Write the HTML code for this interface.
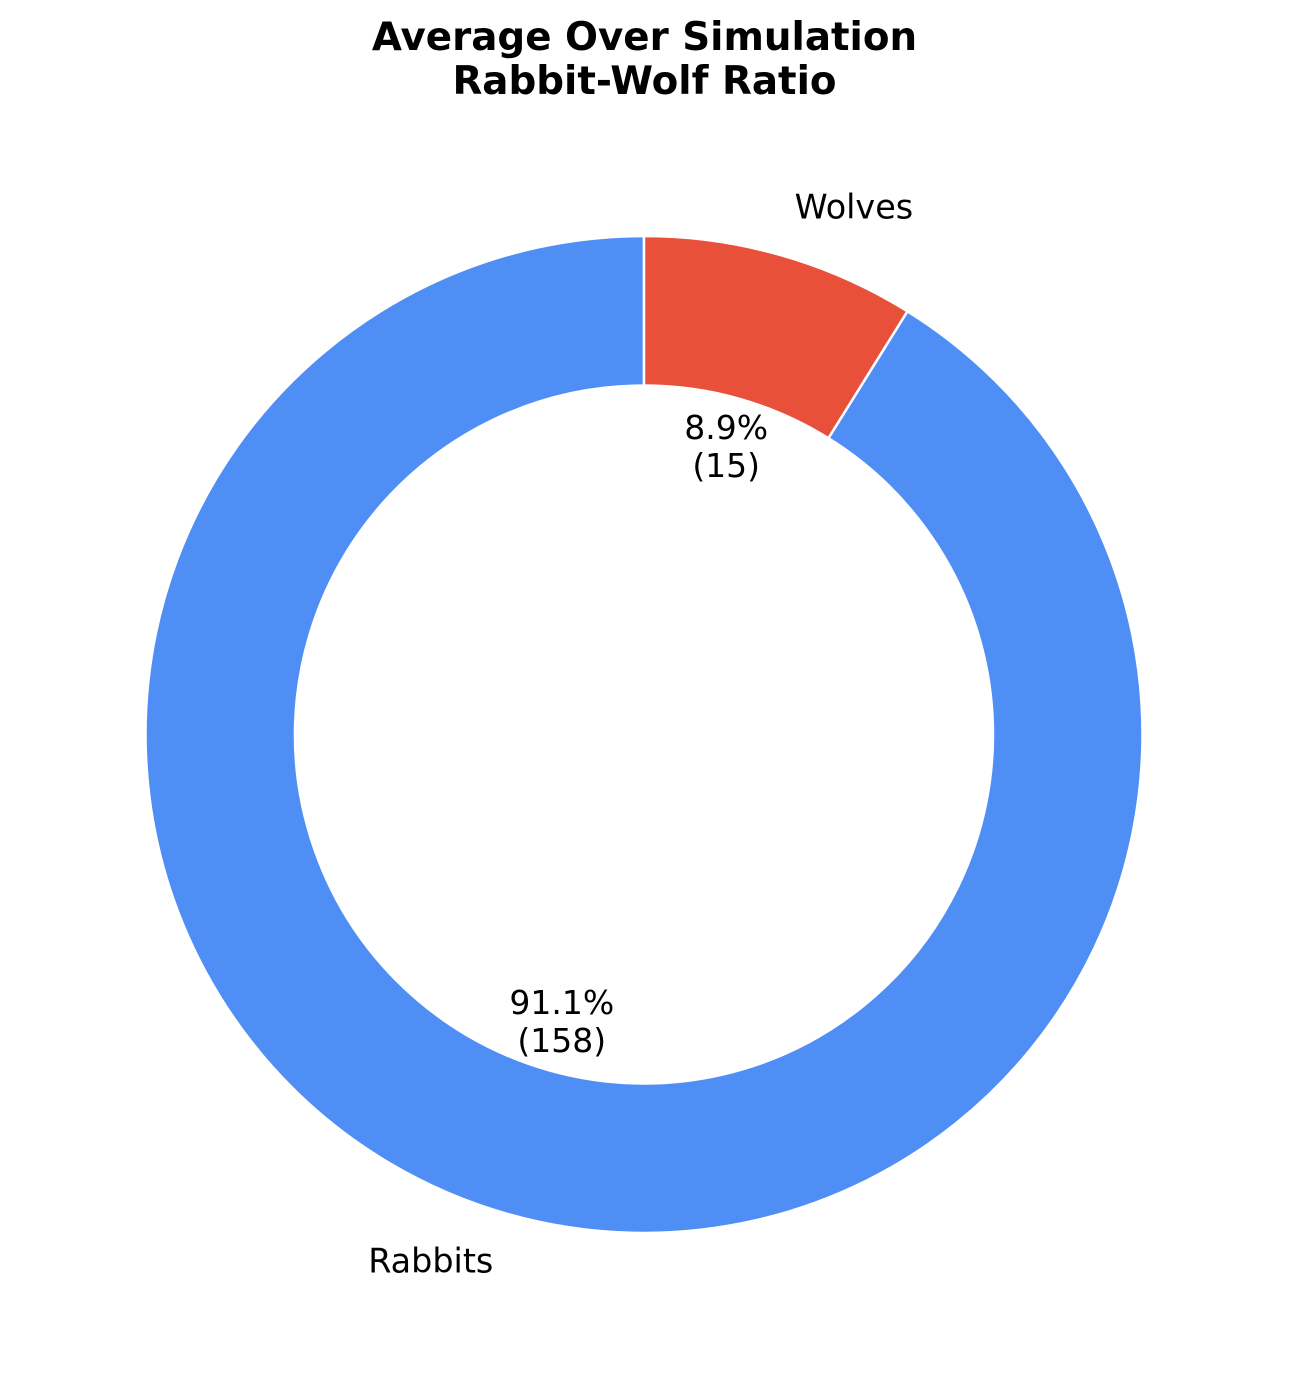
<!DOCTYPE html>
<html><head><meta charset="utf-8"><style>
html,body{margin:0;padding:0;background:#fff;}
svg{display:block;font-family:"DejaVu Sans","Liberation Sans",sans-serif;}
</style></head><body>
<svg id="chart" width="1289" height="1380">
<text x="644.5" y="50" text-anchor="middle" font-size="38.8" font-weight="bold">Average Over Simulation</text>
<text x="644.5" y="94" text-anchor="middle" font-size="38.8" font-weight="bold">Rabbit-Wolf Ratio</text>
<g id="slices"></g>
</svg>
<script>
const categories = ["Rabbits", "Wolves"];
const values = [158.4, 15.4];
const colors = ["#4f8ef5", "#e8503a"];
const cx = 644, cy = 734.5, R = 498.5, r = 349;
const total = values.reduce((a,b)=>a+b,0);
const g = document.getElementById('slices');
const NS = "http://www.w3.org/2000/svg";
function pt(rad, deg){ const a=deg*Math.PI/180; return [cx+rad*Math.cos(a), cy-rad*Math.sin(a)]; }
let start = 90;
values.forEach((v,i)=>{
  const sweep = v/total*360, end = start+sweep;
  const large = sweep>180?1:0;
  const [x1,y1]=pt(R,start),[x2,y2]=pt(R,end),[x3,y3]=pt(r,end),[x4,y4]=pt(r,start);
  const p=document.createElementNS(NS,'path');
  p.setAttribute('d',`M${x1},${y1} A${R},${R} 0 ${large} 0 ${x2},${y2} L${x3},${y3} A${r},${r} 0 ${large} 1 ${x4},${y4} Z`);
  p.setAttribute('fill',colors[i]); p.setAttribute('stroke','#fff'); p.setAttribute('stroke-width','2.5');
  
  
  g.appendChild(p);
  const mid = start+sweep/2;
  const [lx,ly]=pt(R*1.1,mid);
  const t=document.createElementNS(NS,'text');
  t.setAttribute('x',lx); t.setAttribute('y',ly+11); t.setAttribute('font-size','33.4');
  t.setAttribute('text-anchor', lx<cx?'end':'start');
  t.textContent=categories[i];
  
  
  g.appendChild(t);
  const [px,py]=pt(R*0.6,mid);
  const pct=(v/total*100).toFixed(1)+'%';
  [pct,'('+Math.round(v)+')'].forEach((s,k)=>{
    const tt=document.createElementNS(NS,'text');
    tt.setAttribute('x',px); tt.setAttribute('y',py-19+k*38+11); tt.setAttribute('font-size','33');
    tt.setAttribute('text-anchor','middle'); tt.textContent=s;
    
    
    g.appendChild(tt);
  });
  start = end;
});
</script>
</body></html>
